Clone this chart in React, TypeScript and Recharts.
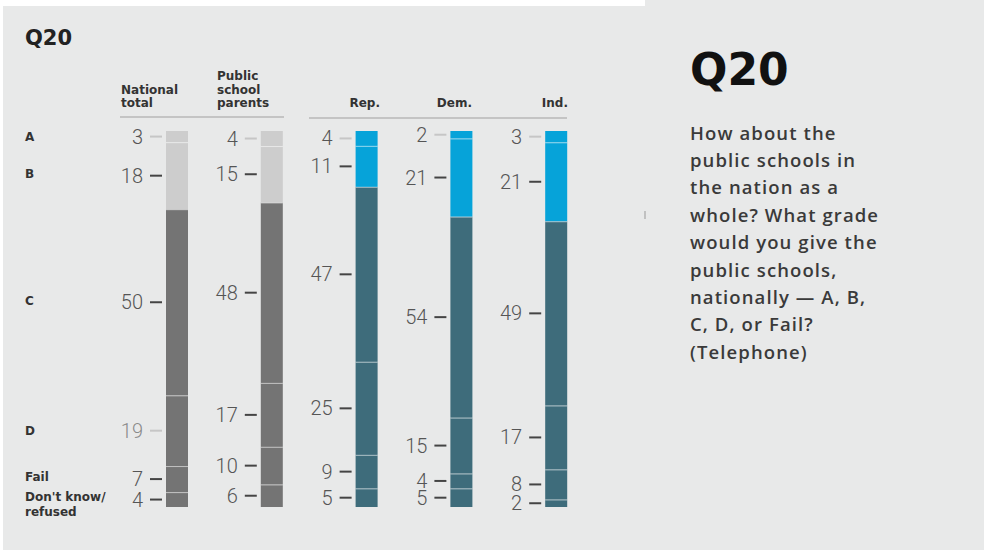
import React from "react"
import { BarChart, Bar, XAxis, YAxis, LabelList } from "recharts"

const groups = ["National total", "Public school parents", "Rep.", "Dem.", "Ind."]
const gradeA = [3, 4, 4, 2, 3]
const gradeB = [18, 15, 11, 21, 21]
const gradeC = [50, 48, 47, 54, 49]
const gradeD = [19, 17, 25, 15, 17]
const gradeFail = [7, 10, 9, 4, 8]
const gradeDK = [4, 6, 5, 5, 2]

const questionLines = [
  "How about the",
  "public schools in",
  "the nation as a",
  "whole? What grade",
  "would you give the",
  "public schools,",
  "nationally \u2014 A, B,",
  "C, D, or Fail?",
  "(Telephone)",
]

const BG = "#e8e9e9"
const GREY_LIGHT = "#cdcdcd"
const GREY_DARK = "#747474"
const BLUE = "#06a3d9"
const TEAL = "#3e6c7b"

const data = groups.map((name, i) => ({
  name,
  A: gradeA[i],
  B: gradeB[i],
  C: gradeC[i],
  D: gradeD[i],
  Fail: gradeFail[i],
  DK: gradeDK[i],
}))

// bottom of the stack first
const stackKeys = ["DK", "Fail", "D", "C", "B", "A"]

const segFill = (key: string, index: number) => {
  const upper = key === "A" || key === "B"
  if (index < 2) return upper ? GREY_LIGHT : GREY_DARK
  return upper ? BLUE : TEAL
}

const makeShape = (key: string) => (props: any) => {
  const { x, y, width, height, index } = props
  const top = Math.min(y, y + height)
  const h = Math.abs(height)
  return (
    <g>
      <rect x={x} y={top} width={width} height={h} fill={segFill(key, index)} />
      {key !== "A" && (
        <line x1={x} x2={x + width} y1={top} y2={top} stroke="#ffffff" strokeOpacity={0.55} strokeWidth={2} />
      )}
    </g>
  )
}

const makeLabel = (key: string) => (props: any) => {
  const { x, y, height, value, index } = props
  const cy = y + height / 2
  const light = key === "A" || (key === "D" && index === 0)
  return (
    <g>
      <text
        x={x - 23}
        y={cy}
        textAnchor="end"
        dominantBaseline="central"
        fontFamily="Roboto"
        fontWeight={300}
        fontSize={20}
        fill={key === "D" && index === 0 ? "#8a8a8a" : "#555"}
      >
        {value}
      </text>
      <line x1={x - 16} x2={x - 4} y1={cy} y2={cy} stroke={light ? "#c6c6c6" : "#444"} strokeWidth={2} />
    </g>
  )
}

const headFont = { fontFamily: "DejaVu Sans", fontWeight: 700, fontSize: 12, fill: "#333" }

export default function App() {
  return (
    <div style={{ position: "absolute", left: 0, top: 0, width: 984, height: 550, background: "#fff", overflow: "hidden" }}>
      <div style={{ position: "absolute", left: 3, top: 6, width: 981, height: 544, background: BG }} />
      <div style={{ position: "absolute", left: 645, top: 0, width: 339, height: 6, background: BG }} />

      <div style={{ position: "absolute", left: 0, top: 0 }}>
        <BarChart
          width={984}
          height={550}
          data={data}
          stackOffset="expand"
          barSize={22}
          margin={{ top: 131, right: 380, bottom: 43, left: 130 }}
        >
          <XAxis dataKey="name" hide />
          <YAxis hide domain={[0, 1]} />
          {stackKeys.map((k) => (
            <Bar key={k} dataKey={k} stackId="g" isAnimationActive={false} shape={makeShape(k)}>
              <LabelList dataKey={k} content={makeLabel(k)} />
            </Bar>
          ))}
        </BarChart>
      </div>

      <svg width={984} height={550} style={{ position: "absolute", left: 0, top: 0, pointerEvents: "none" }}>
        <text x={25} y={38} dominantBaseline="central" fontFamily="DejaVu Sans" fontWeight={700} fontSize={21} fill="#222">
          Q20
        </text>

        <text x={121} y={90} dominantBaseline="central" {...headFont}>National</text>
        <text x={121} y={103} dominantBaseline="central" {...headFont}>total</text>
        <text x={217} y={76} dominantBaseline="central" {...headFont}>Public</text>
        <text x={217} y={90} dominantBaseline="central" {...headFont}>school</text>
        <text x={217} y={103} dominantBaseline="central" {...headFont}>parents</text>
        <text x={380} y={103} textAnchor="end" dominantBaseline="central" {...headFont}>Rep.</text>
        <text x={472} y={103} textAnchor="end" dominantBaseline="central" {...headFont}>Dem.</text>
        <text x={568} y={103} textAnchor="end" dominantBaseline="central" {...headFont}>Ind.</text>
        <line x1={120} x2={284} y1={117} y2={117} stroke="#c4c4c4" strokeWidth={2} />
        <line x1={309} x2={567} y1={118} y2={118} stroke="#c4c4c4" strokeWidth={2} />

        <text x={25} y={137} dominantBaseline="central" {...headFont}>A</text>
        <text x={25} y={174} dominantBaseline="central" {...headFont}>B</text>
        <text x={25} y={301} dominantBaseline="central" {...headFont}>C</text>
        <text x={25} y={431} dominantBaseline="central" {...headFont}>D</text>
        <text x={25} y={477} dominantBaseline="central" {...headFont}>Fail</text>
        <text x={25} y={497} dominantBaseline="central" {...headFont}>Don't know/</text>
        <text x={25} y={512} dominantBaseline="central" {...headFont}>refused</text>

        <line x1={645} x2={645} y1={211} y2={219} stroke="#999" strokeWidth={1} />

        <text x={690} y={69} dominantBaseline="central" fontFamily="DejaVu Sans" fontWeight={700} fontSize={44} fill="#111">
          Q20
        </text>
        {questionLines.map((t, i) => (
          <text
            key={i}
            x={690}
            y={132 + i * 27.4}
            dominantBaseline="central"
            fontFamily="Open Sans"
            fontWeight={600}
            fontSize={18.5}
            letterSpacing={1.1}
            fill="#3a3a3a"
          >
            {t}
          </text>
        ))}
      </svg>
    </div>
  )
}
